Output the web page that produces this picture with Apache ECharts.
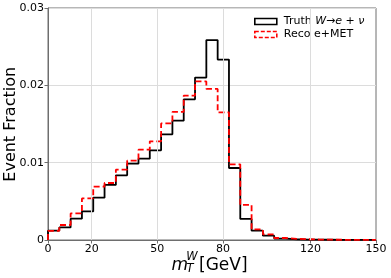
<!DOCTYPE html>
<html><head><meta charset="utf-8">
<script src="https://cdn.jsdelivr.net/npm/echarts@6/dist/echarts.min.js"></script>
<style>html,body{margin:0;padding:0;background:#fff}#c{width:391px;height:278px}</style>
</head><body><div id="c"></div>
<script>
// Bin edges (29 bins from 0 to 150 GeV)
const binEdges = [0, 5.172, 10.345, 15.517, 20.690, 25.862, 31.034, 36.207, 41.379, 46.552,
  51.724, 56.897, 62.069, 67.241, 72.414, 77.586, 82.759, 87.931, 93.103, 98.276,
  103.448, 108.621, 113.793, 118.966, 124.138, 129.310, 134.483, 139.655, 144.828, 150];
// Event fraction per bin (density)
const truthValues = [0.0012, 0.00163, 0.00276, 0.0037, 0.00547, 0.00712, 0.00836, 0.00987, 0.01052, 0.01159,
  0.01366, 0.01543, 0.01819, 0.0210, 0.02585, 0.02333, 0.00931, 0.00272, 0.0012, 0.00056,
  0.00018, 0.0001, 0.00006, 0.00004, 0.00003, 0.00002, 0.00002, 0.00001, 0.00001];
const recoValues = [0.00118, 0.00194, 0.00344, 0.00538, 0.0069, 0.00737, 0.0091, 0.01026, 0.01168, 0.01276,
  0.01508, 0.01656, 0.01867, 0.0205, 0.01953, 0.0165, 0.00978, 0.00453, 0.00137, 0.00073,
  0.00026, 0.00015, 0.0001, 0.00006, 0.00004, 0.00003, 0.00002, 0.00002, 0.00001];
const xTickValues = [0, 20, 50, 80, 120, 150];
const yTickLabels = ['0', '0.01', '0.02', '0.03'];
const seriesNames = ['Truth W→e+ν', 'Reco e+MET'];

function stepPoints(edges, vals) {
  const pts = [[edges[0], 0]];
  for (let i = 0; i < vals.length; i++) pts.push([edges[i], vals[i]]);
  pts.push([edges[edges.length - 1], vals[vals.length - 1]]);
  pts.push([edges[edges.length - 1], 0]);
  return pts;
}

const FONT = 'DejaVu Sans';
const AX = '#6e6e6e';
const GRIDC = '#dcdcdc';
const chart = echarts.init(document.getElementById('c'), null, {renderer: 'canvas'});
chart.setOption({
  animation: false,
  backgroundColor: '#fff',
  grid: {left: 48, right: 15, top: 8, bottom: 38, show: true, borderColor: AX, borderWidth: 1, backgroundColor: 'transparent'},
  xAxis: {
    type: 'value', min: 0, max: 150,
    axisLine: {show: true, onZero: false, lineStyle: {color: AX, width: 1}},
    axisTick: {show: true, customValues: xTickValues, length: 3.5, lineStyle: {color: AX}},
    axisLabel: {customValues: xTickValues, fontSize: 11, fontFamily: FONT, color: '#000', margin: 4},
    splitLine: {show: false}
  },
  yAxis: {
    type: 'value', min: 0, max: 0.03, interval: 0.01,
    axisLine: {show: true, lineStyle: {color: AX, width: 1}},
    axisTick: {show: true, length: 3.5, lineStyle: {color: AX}},
    axisLabel: {fontSize: 11, fontFamily: FONT, color: '#000', margin: 4,
      formatter: (v) => yTickLabels[Math.round(v / 0.01)]},
    splitLine: {show: true, lineStyle: {color: GRIDC, width: 1}}
  },
  legend: {
    orient: 'vertical', left: 249, top: 11, padding: [5, 6, 7, 5],
    backgroundColor: '#fff',
    itemWidth: 22, itemHeight: 6, itemGap: 2, icon: 'rect',
    textStyle: {fontSize: 11, fontFamily: FONT, color: '#000', padding: [0, 0, 0, 2],
      rich: {
        n: {fontSize: 11, fontFamily: FONT, color: '#000'},
        i: {fontSize: 11, fontFamily: FONT, fontStyle: 'italic', color: '#000'}
      }},
    formatter: (name) => name === seriesNames[0]
      ? '{n|Truth }{i|W}{n|→}{i|e}{n| + }{i|ν}'
      : '{n|Reco e+MET}',
    data: [
      {name: seriesNames[0], itemStyle: {color: 'rgba(0,0,0,0)', borderColor: '#000', borderWidth: 1.6, borderType: 'solid'}},
      {name: seriesNames[1], itemStyle: {color: 'rgba(0,0,0,0)', borderColor: '#ff0000', borderWidth: 1.6, borderType: [4, 2]}}
    ]
  },
  graphic: [
    {type: 'text', x: 11.2, y: 124.3, rotation: Math.PI / 2,
      style: {text: 'Event Fraction', fontSize: 16, fontFamily: FONT, fill: '#000', align: 'center', verticalAlign: 'middle'}},
    {type: 'text', x: 171.5, y: 265.8,
      style: {text: 'm', fontSize: 17, fontFamily: FONT, fontStyle: 'italic', fill: '#000', align: 'left', verticalAlign: 'middle'}},
    {type: 'text', x: 186.5, y: 269.4,
      style: {text: 'T', fontSize: 11.5, fontFamily: FONT, fontStyle: 'italic', fill: '#000', align: 'left', verticalAlign: 'middle'}},
    {type: 'text', x: 186.3, y: 257.4,
      style: {text: 'W', fontSize: 11.5, fontFamily: FONT, fontStyle: 'italic', fill: '#000', align: 'left', verticalAlign: 'middle'}},
    {type: 'text', x: 199, y: 265.8,
      style: {text: '[GeV]', fontSize: 17, fontFamily: FONT, fill: '#000', align: 'left', verticalAlign: 'middle'}}
  ],
  series: [
    {name: 'xgrid', type: 'line', data: [], z: 1, silent: true,
      markLine: {silent: true, symbol: ['none', 'none'], animation: false, label: {show: false},
        lineStyle: {color: GRIDC, width: 1, type: 'solid'},
        emphasis: {disabled: true},
        data: xTickValues.slice(1, -1).map(v => ({xAxis: v}))}},
    {name: seriesNames[0], type: 'line', step: 'end', showSymbol: false, symbol: 'none',
      data: stepPoints(binEdges, truthValues), lineStyle: {color: '#000', width: 1.8}, itemStyle: {color: '#000'}, z: 2},
    {name: seriesNames[1], type: 'line', step: 'end', showSymbol: false, symbol: 'none',
      data: stepPoints(binEdges, recoValues), lineStyle: {color: '#ff0000', width: 1.8, type: [6, 3]}, itemStyle: {color: '#ff0000'}, z: 3}
  ]
});
</script>
</body></html>
